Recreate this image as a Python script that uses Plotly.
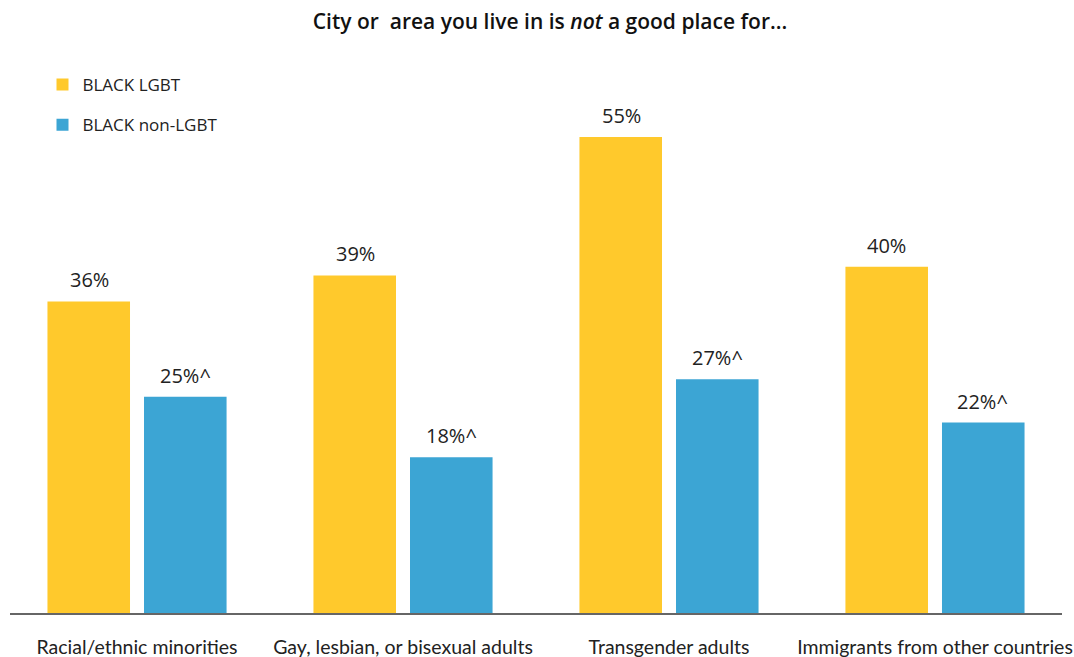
import plotly.graph_objects as go

categories = ["Racial/ethnic minorities", "Gay, lesbian, or bisexual adults",
              "Transgender adults", "Immigrants from other countries"]
series_names = ["BLACK LGBT", "BLACK non-LGBT"]
lgbt_values = [36, 39, 55, 40]
non_lgbt_values = [25, 18, 27, 22]
non_lgbt_flags = ["^", "^", "^", "^"]
lgbt_flags = ["", "", "", ""]

colors = ["#FFC92C", "#3CA5D4"]

W, H = 1074, 657
ml, mr, mt, mb = 10, 12, 68, 44
px_per_unit = 8.654
plot_w = W - ml - mr
plot_h = H - mt - mb
y_max = plot_h / px_per_unit

fig = go.Figure()
for name, vals, col in [(series_names[0], lgbt_values, colors[0]),
                        (series_names[1], non_lgbt_values, colors[1])]:
    fig.add_trace(go.Bar(x=categories, y=vals, name=name, marker_color=col,
                         marker_line_width=0, legendgroup=name))

for vals, flags, shift in [(lgbt_values, lgbt_flags, -48), (non_lgbt_values, non_lgbt_flags, 48)]:
    for c, v, f in zip(categories, vals, flags):
        fig.add_annotation(x=c, y=v, xref="x", yref="y", text=f"{v}%{f}",
                           showarrow=False, xshift=shift, yanchor="bottom", yshift=6,
                           font=dict(family="Open Sans", size=20, color="#222222"))

fig.update_layout(
    width=W, height=H,
    margin=dict(l=ml, r=mr, t=mt, b=mb, autoexpand=False),
    paper_bgcolor="white", plot_bgcolor="white",
    bargap=0.274, bargroupgap=0.145,
    title=dict(text="City or  area you live in is <i>not</i> a good place for...",
               x=550 / W, xanchor="center", y=1 - 22 / H, yanchor="middle",
               font=dict(family="Open Sans", size=21, color="#111111", weight=600)),
    showlegend=True,
    legend=dict(x=(42.5 - ml) / plot_w, y=1 + (mt - 67) / plot_h, xanchor="left", yanchor="top",
                font=dict(family="Open Sans", size=17, color="#222222"),
                tracegroupgap=15, bgcolor="rgba(0,0,0,0)"),
    xaxis=dict(range=[-0.4775, 3.4775], showline=True, linecolor="#666666", linewidth=2,
               ticks="", showgrid=False, zeroline=False,
               tickfont=dict(family="Lato", size=19.5, color="#222222"),
               ticklabelstandoff=16),
    yaxis=dict(range=[0, y_max], visible=False, showgrid=False, zeroline=False),
)

fig.write_html("out.html", config={"displayModeBar": False},
               post_script="document.body.style.margin='0';document.body.style.overflow='hidden';")
